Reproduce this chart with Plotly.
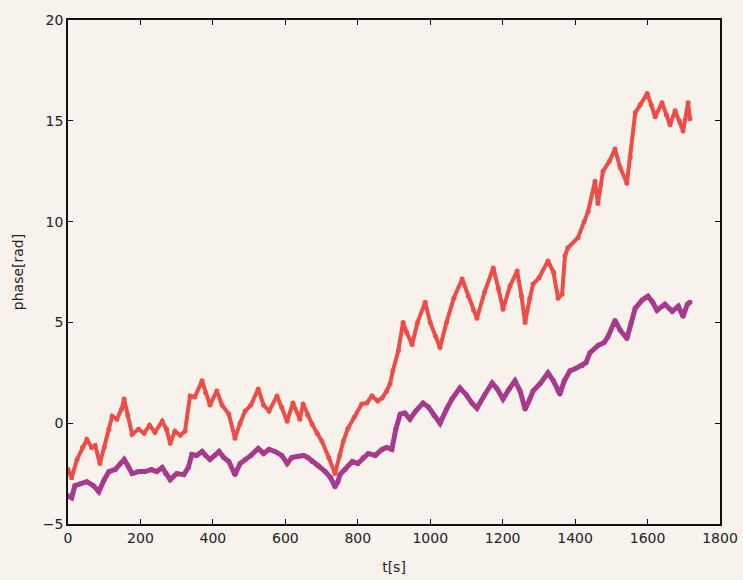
import plotly.graph_objects as go

# Red series (upper): time [s] and phase [rad]
red_t = [0, 10, 25, 40, 52, 65, 75, 88, 100, 113, 122, 135, 148, 155, 165, 177, 195, 210, 225, 240,
         260, 272, 282, 295, 310, 323, 337, 350, 370, 380, 392, 411, 425, 444, 461, 475, 489, 505, 525, 540,
         555, 577, 590, 605, 621, 640, 649, 662, 674, 688, 701, 720, 737, 750, 760, 773, 790, 811, 825, 839,
         855, 867, 880, 889, 897, 912, 925, 935, 950, 965, 986, 1000, 1015, 1027, 1045, 1065, 1088, 1105, 1120, 1129,
         1150, 1174, 1188, 1201, 1220, 1240, 1252, 1262, 1275, 1284, 1300, 1325, 1340, 1353, 1364, 1372, 1380, 1408, 1425, 1436,
         1455, 1463, 1477, 1495, 1510, 1524, 1543, 1552, 1566, 1580, 1599, 1610, 1621, 1640, 1652, 1662, 1676, 1688, 1698, 1712, 1717]
red_v = [-2.3, -2.7, -1.8, -1.2, -0.8, -1.2, -1.1, -2.0, -1.2, -0.3, 0.35, 0.2, 0.7, 1.2, 0.4, -0.55, -0.3, -0.5, -0.1, -0.45,
         0.1, -0.3, -1.0, -0.4, -0.6, -0.4, 1.35, 1.3, 2.1, 1.5, 0.9, 1.6, 0.9, 0.45, -0.75, 0.0, 0.6, 0.9, 1.7, 0.9,
         0.6, 1.35, 0.8, 0.1, 1.0, 0.2, 0.95, 0.4, -0.05, -0.5, -0.9, -1.7, -2.5, -1.6, -0.9, -0.25, 0.3, 0.95, 1.0, 1.35,
         1.1, 1.25, 1.6, 1.95, 2.6, 3.6, 5.0, 4.5, 3.9, 5.0, 6.0, 5.0, 4.3, 3.75, 5.0, 6.2, 7.15, 6.3, 5.6, 5.2,
         6.5, 7.7, 6.7, 5.65, 6.8, 7.55, 6.3, 5.0, 6.2, 6.9, 7.2, 8.05, 7.5, 6.2, 6.4, 8.3, 8.7, 9.2, 10.0, 10.5,
         12.0, 10.9, 12.5, 13.0, 13.6, 12.7, 11.9, 13.2, 15.4, 15.8, 16.35, 15.8, 15.2, 15.9, 15.3, 14.8, 15.5, 15.0, 14.5, 15.9, 15.1]

# Purple series (lower)
pur_t = [0, 10, 19, 35, 52, 70, 85, 100, 113, 130, 145, 155, 165, 177, 195, 213, 230, 245, 260, 270,
         282, 300, 320, 332, 342, 355, 370, 380, 392, 405, 417, 430, 444, 461, 475, 490, 505, 525, 540, 555,
         571, 590, 605, 618, 632, 650, 662, 674, 690, 710, 725, 737, 745, 751, 765, 785, 800, 815, 829, 848,
         867, 880, 894, 905, 917, 930, 944, 960, 980, 995, 1010, 1027, 1045, 1060, 1082, 1100, 1115, 1129, 1150, 1171,
         1185, 1201, 1218, 1234, 1248, 1262, 1275, 1284, 1305, 1325, 1340, 1353, 1358, 1370, 1386, 1400, 1419, 1430, 1441, 1463,
         1480, 1491, 1510, 1525, 1543, 1555, 1566, 1585, 1601, 1614, 1626, 1648, 1668, 1685, 1698, 1710, 1717]
pur_v = [-3.6, -3.7, -3.1, -3.0, -2.9, -3.1, -3.4, -2.8, -2.4, -2.3, -2.0, -1.8, -2.1, -2.5, -2.4, -2.4, -2.3, -2.4, -2.2, -2.5,
         -2.8, -2.5, -2.55, -2.2, -1.55, -1.6, -1.4, -1.6, -1.8, -1.6, -1.4, -1.7, -1.9, -2.55, -2.0, -1.8, -1.6, -1.25, -1.5, -1.3,
         -1.4, -1.6, -2.0, -1.7, -1.65, -1.6, -1.7, -1.9, -2.1, -2.4, -2.7, -3.15, -2.9, -2.55, -2.3, -1.9, -2.0, -1.7, -1.5, -1.6,
         -1.3, -1.2, -1.3, -0.3, 0.45, 0.5, 0.2, 0.6, 1.0, 0.8, 0.4, 0.0, 0.7, 1.2, 1.75, 1.4, 1.0, 0.75, 1.4, 2.0,
         1.7, 1.2, 1.7, 2.1, 1.6, 0.7, 1.2, 1.6, 2.0, 2.5, 2.1, 1.6, 1.45, 2.1, 2.6, 2.7, 2.85, 3.0, 3.5, 3.85,
         4.0, 4.3, 5.1, 4.6, 4.2, 5.0, 5.7, 6.1, 6.3, 6.0, 5.6, 5.9, 5.55, 5.8, 5.3, 5.9, 6.0]

x_ticks = [0, 200, 400, 600, 800, 1000, 1200, 1400, 1600, 1800]
y_ticks = [-5, 0, 5, 10, 15, 20]

bg = "#f7f3ec"
font = dict(family="DejaVu Sans", size=14, color="#222222")

fig = go.Figure()
fig.add_trace(go.Scatter(x=pur_t, y=pur_v, mode="lines+markers",
                         line=dict(color="#a8398c", width=5),
                         marker=dict(color="#a8398c", size=5), showlegend=False))
fig.add_trace(go.Scatter(x=red_t, y=red_v, mode="lines+markers",
                         line=dict(color="#ec4d47", width=4),
                         marker=dict(color="#ec4d47", size=5), showlegend=False))

axis_common = dict(showline=True, linecolor="#111111", linewidth=1.5, mirror="ticks",
                   ticks="inside", ticklen=5, tickcolor="#111111", tickwidth=1,
                   showgrid=False, zeroline=False, tickfont=font, automargin=False)

fig.update_layout(
    width=743, height=580,
    margin=dict(l=68, r=23, t=20, b=56),
    paper_bgcolor=bg, plot_bgcolor=bg,
    font=font,
    xaxis=dict(range=[0, 1800], tickvals=x_ticks, ticktext=[str(v) for v in x_ticks],
               title=dict(text="t[s]", font=font, standoff=18), **axis_common),
    yaxis=dict(range=[-5, 20], tickvals=y_ticks, ticktext=[str(v).replace("-", "\u2212") for v in y_ticks],
               title=dict(text="phase[rad]", font=font, standoff=16), **axis_common),
)

fig.write_html(
    "out.html",
    config={"displayModeBar": False},
    post_script="document.body.style.margin='0';document.body.style.background='%s';" % bg,
)
